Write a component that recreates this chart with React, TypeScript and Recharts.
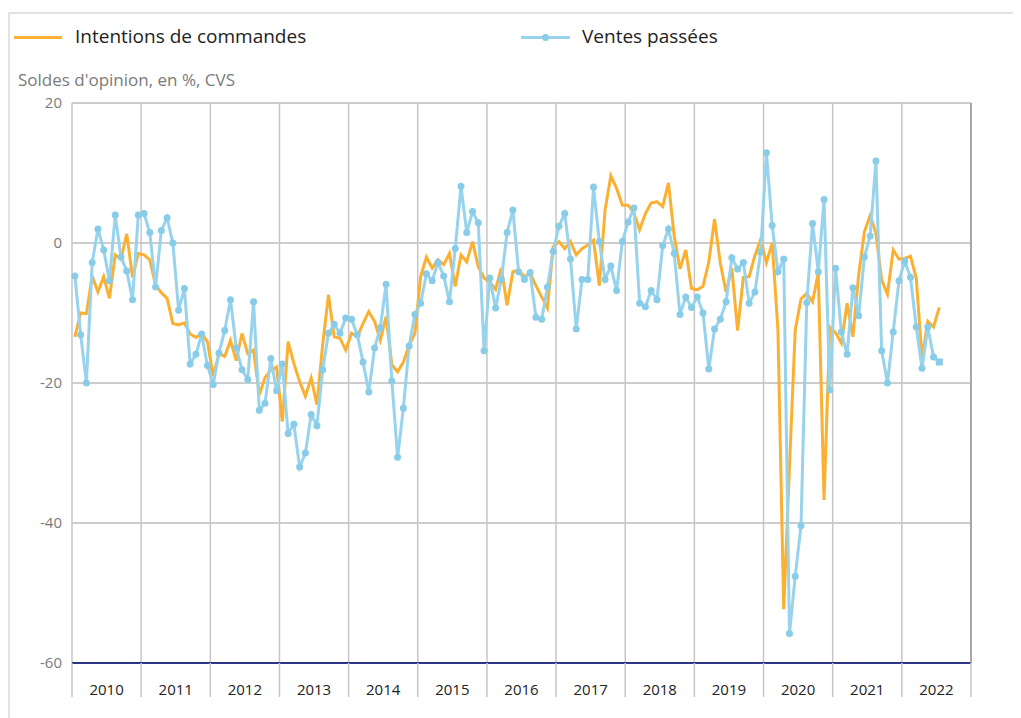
import React from 'react';
import { LineChart, Line, XAxis, YAxis, CartesianGrid } from 'recharts';

// monthly balances of opinion, Jan 2010 -> Jul 2022
const years = ['2010', '2011', '2012', '2013', '2014', '2015', '2016', '2017', '2018', '2019', '2020', '2021', '2022'];

const intentions = [
  -13.4, -10.0, -10.1, -4.7, -7.0, -4.8, -7.9, -1.7, -2.3, 1.3, -4.9, -1.5,
  -1.7, -2.4, -6.0, -7.1, -7.9, -11.5, -11.7, -11.4, -13.0, -13.5, -12.9, -14.1,
  -19.0, -15.8, -16.2, -13.9, -16.8, -12.9, -15.8, -15.3, -21.7, -19.2, -18.2, -17.7,
  -25.5, -14.1, -17.2, -19.8, -21.9, -19.3, -23.1, -14.5, -7.4, -13.4, -13.6, -15.3,
  -12.9, -13.4, -11.5, -9.8, -11.2, -13.9, -10.5, -17.4, -18.4, -17.0, -14.6, -12.9,
  -4.8, -2.0, -3.6, -2.4, -3.1, -1.5, -6.2, -1.7, -2.7, 0.2, -3.4, -5.0,
  -5.6, -6.6, -3.6, -8.9, -4.1, -3.9, -4.8, -4.3, -6.1, -7.7, -9.3, -0.5,
  0.2, -0.8, 0.2, -1.7, -0.8, -0.3, 0.4, -6.1, 4.7, 9.6, 7.8, 5.4,
  5.4, 4.3, 1.9, 4.2, 5.7, 5.9, 5.2, 8.6, 1.0, -3.7, -1.0, -6.5,
  -6.7, -6.2, -2.7, 3.4, -2.9, -7.0, -3.6, -12.5, -4.9, -4.8, -1.8, 0.5,
  -2.8, 0.0, -12.5, -52.3, -32.0, -12.4, -8.0, -7.2, -8.4, -4.3, -36.7, -12.0,
  -12.8, -14.3, -8.6, -13.4, -4.6, 1.6, 3.9, 1.4, -5.3, -7.3, -1.0, -2.3,
  -2.2, -1.9, -5.0, -16.5, -11.2, -12.0, -9.2,
];

const ventes = [
  -4.7, -13.1, -20.0, -2.8, 2.0, -1.0, -5.4, 4.0, -2.0, -4.0, -8.1, 4.0,
  4.2, 1.5, -6.3, 1.8, 3.6, 0.0, -9.6, -6.5, -17.3, -15.9, -13.0, -17.5,
  -20.2, -15.7, -12.5, -8.1, -15.0, -18.1, -19.5, -8.4, -23.9, -22.9, -16.5, -21.1,
  -17.3, -27.2, -25.9, -32.0, -30.0, -24.5, -26.1, -18.1, -12.9, -11.6, -12.9, -10.7,
  -10.9, -13.1, -17.0, -21.3, -15.0, -12.1, -5.9, -19.7, -30.6, -23.6, -14.7, -10.2,
  -8.6, -4.4, -5.4, -2.8, -4.7, -8.4, -0.8, 8.1, 1.5, 4.5, 2.9, -15.4,
  -5.0, -9.3, -5.2, 1.5, 4.7, -4.1, -5.2, -4.2, -10.6, -10.9, -6.3, -1.2,
  2.4, 4.2, -2.3, -12.3, -5.2, -5.2, 8.0, 0.2, -5.2, -3.3, -6.8, 0.2,
  3.0, 5.0, -8.6, -9.1, -6.8, -8.1, -0.4, 2.0, -1.5, -10.2, -7.7, -9.2,
  -7.7, -10.0, -18.0, -12.3, -10.9, -8.4, -2.1, -3.7, -2.8, -8.6, -7.0, -1.3,
  12.9, 2.5, -4.1, -2.3, -55.8, -47.6, -40.4, -8.5, 2.8, -4.1, 6.2, -21.0,
  -3.6, -12.7, -15.9, -6.4, -10.4, -2.0, 1.0, 11.7, -15.4, -20.0, -12.7, -5.4,
  -2.6, -4.9, -12.0, -17.9, -12.0, -16.3, -17.0,
];

const yTicks = [-60, -40, -20, 0, 20];

const ORANGE = '#fbb032';
const BLUE = '#97d3ec';
const BLUE_DOT = '#88cce8';
const FONT = '"Open Sans", "Noto Sans", sans-serif';

const yearTicks = years.map((_, k) => k * 12).concat(years.length * 12);

const data = ventes.map((v, i) => ({ t: i + 0.5, intentions: intentions[i], ventes: v }));

const HALF_YEAR = 899 / years.length / 2;

const YearTick = (props: any) => {
  const { x, y, payload } = props;
  const idx = Math.round(payload.value / 12);
  if (idx >= years.length) return null;
  return (
    <text x={x + HALF_YEAR} y={y - 10} textAnchor="middle" dominantBaseline="central"
      fill="#222" fontSize={15} fontFamily={FONT}>
      {years[idx]}
    </text>
  );
};

const SalesDot = (props: any) => {
  const { cx, cy, index } = props;
  if (index === ventes.length - 1) {
    return <rect key={index} x={cx - 3.5} y={cy - 3.5} width={7} height={7} fill={BLUE_DOT} />;
  }
  return <circle key={index} cx={cx} cy={cy} r={3.5} fill={BLUE_DOT} />;
};

export default function App() {
  return (
    <div style={{ position: 'relative', width: 1013, height: 710, fontFamily: FONT }}>
      <div style={{ position: 'absolute', left: 0, top: 4, width: 1013, height: 706,
        borderTop: '2px solid #e2e2e2', borderLeft: '2px solid #e2e2e2' }} />

      <div style={{ position: 'absolute', left: 6, top: 28, width: 48, height: 3, background: ORANGE }} />
      <div style={{ position: 'absolute', left: 67, top: 15, fontSize: 19, color: '#222', whiteSpace: 'nowrap' }}>
        Intentions de commandes
      </div>
      <div style={{ position: 'absolute', left: 513, top: 28, width: 49, height: 3, background: BLUE }} />
      <div style={{ position: 'absolute', left: 534, top: 26, width: 7, height: 7, borderRadius: 4, background: BLUE_DOT }} />
      <div style={{ position: 'absolute', left: 574, top: 15, fontSize: 19, color: '#222', whiteSpace: 'nowrap' }}>
        Ventes passées
      </div>
      <div style={{ position: 'absolute', left: 10, top: 60, fontSize: 17, color: '#7a7a7a', whiteSpace: 'nowrap' }}>
        Soldes d'opinion, en %, CVS
      </div>

      <div style={{ position: 'absolute', left: 0, top: 0 }}>
        <LineChart width={1005} height={700} data={data} margin={{ top: 95, right: 0, bottom: 0, left: 0 }}>
          <CartesianGrid vertical={false} stroke="#bdbdbd" strokeWidth={1.5} yAxisId="left" />
          <CartesianGrid horizontal={false} stroke="#c6c6c6" strokeWidth={1.5} yAxisId="left" />
          <XAxis
            dataKey="t"
            type="number"
            domain={[0, years.length * 12]}
            ticks={yearTicks}
            interval={0}
            height={45}
            tickSize={34}
            tickMargin={2}
            tickLine={{ stroke: '#c6c6c6', strokeWidth: 1.5 }}
            axisLine={{ stroke: '#2e3586', strokeWidth: 2 }}
            tick={<YearTick />}
          />
          <YAxis
            yAxisId="left"
            orientation="left"
            width={64}
            domain={[-60, 20]}
            ticks={yTicks}
            interval={0}
            axisLine={false}
            tickLine={false}
            tickMargin={4}
            tick={{ fill: '#7a7a7a', fontSize: 15, fontFamily: FONT }}
          />
          <YAxis
            yAxisId="right"
            orientation="right"
            width={42}
            domain={[-60, 20]}
            ticks={yTicks}
            interval={0}
            axisLine={{ stroke: '#9a9a9a', strokeWidth: 1.5 }}
            tickLine={false}
            tickMargin={2}
            tick={{ fill: '#7a7a7a', fontSize: 15, fontFamily: FONT, textAnchor: 'start' }}
          />
          <Line
            yAxisId="left"
            dataKey="intentions"
            type="linear"
            stroke={ORANGE}
            strokeWidth={3}
            dot={false}
            isAnimationActive={false}
          />
          <Line
            yAxisId="left"
            dataKey="ventes"
            type="linear"
            stroke={BLUE}
            strokeWidth={3}
            dot={SalesDot}
            isAnimationActive={false}
          />
        </LineChart>
      </div>
    </div>
  );
}
